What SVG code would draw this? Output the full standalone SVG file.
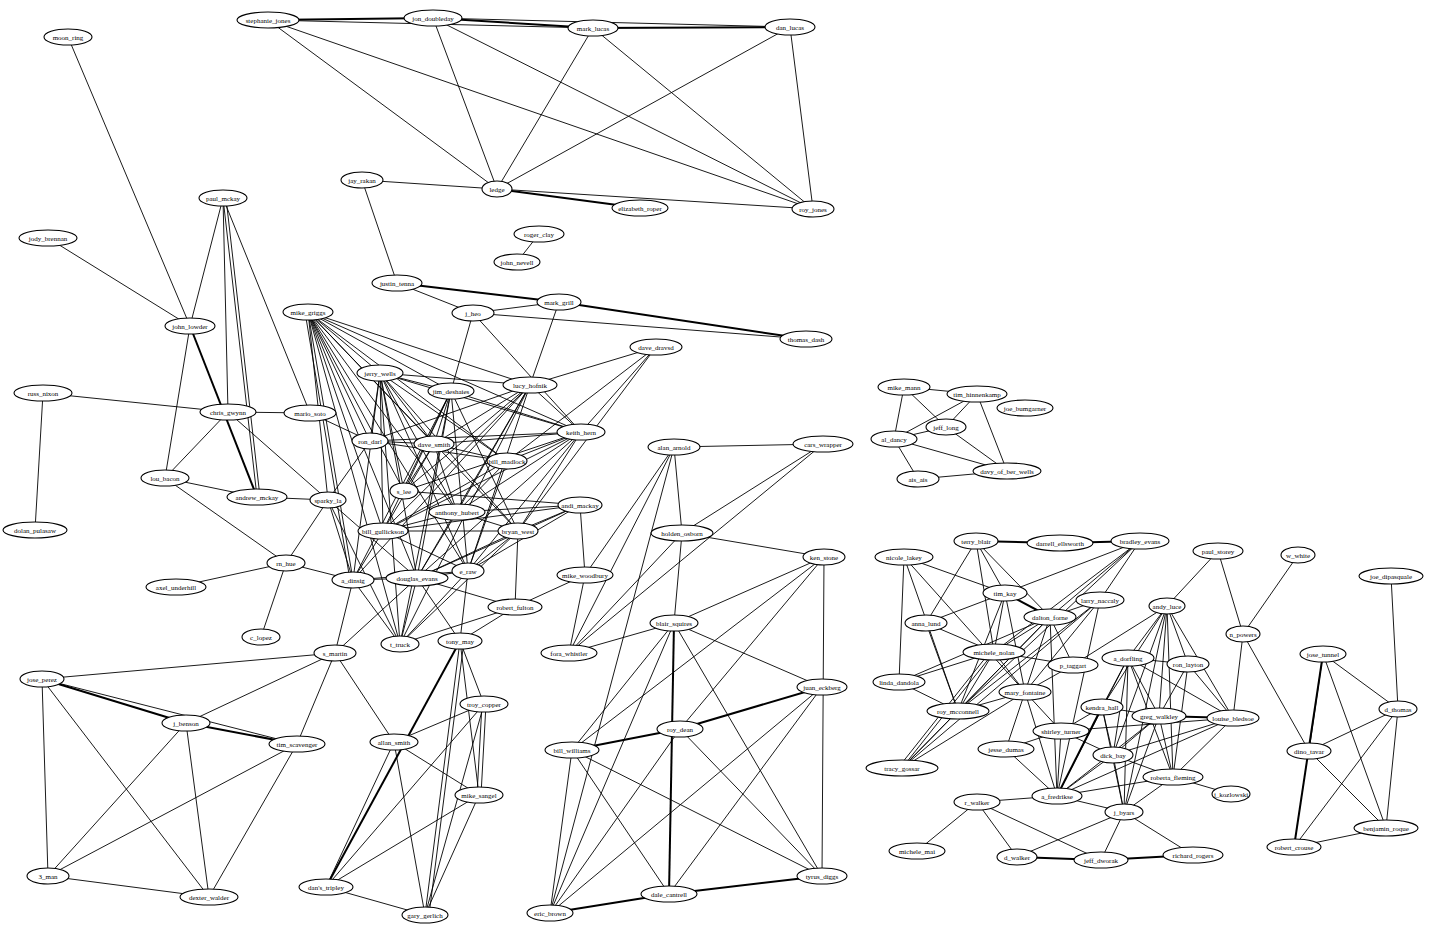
<svg xmlns="http://www.w3.org/2000/svg" width="1437" height="930" viewBox="0 0 1437 930">
<style>
.n ellipse{fill:#fff;stroke:#000;stroke-width:1.1}
.n text{font-family:"Liberation Serif",serif;font-size:7px;text-anchor:middle;fill:#000}
#edges line{stroke:#000;stroke-width:0.9}
#edges line.t{stroke-width:2}
</style>
<rect width="1437" height="930" fill="#fff"/>
<g id="edges">
<!-- top cluster -->
<line class="t" x1="268" y1="20" x2="433" y2="18"/><line x1="268" y1="20" x2="593" y2="28"/><line class="t" x1="433" y1="18" x2="593" y2="28"/><line class="t" x1="593" y1="28" x2="790" y2="27"/><line x1="433" y1="18" x2="790" y2="27"/>
<line x1="268" y1="20" x2="497" y2="189"/><line x1="268" y1="20" x2="813" y2="209"/><line x1="433" y1="18" x2="497" y2="189"/><line x1="433" y1="18" x2="813" y2="209"/>
<line x1="593" y1="28" x2="497" y2="189"/><line x1="593" y1="28" x2="813" y2="209"/><line x1="790" y1="27" x2="497" y2="189"/><line x1="790" y1="27" x2="813" y2="209"/>
<line class="t" x1="497" y1="189" x2="640" y2="208"/><line x1="497" y1="189" x2="813" y2="209"/><line x1="362" y1="180" x2="497" y2="189"/><line x1="362" y1="180" x2="397" y2="283"/>
<line x1="68" y1="37" x2="190" y2="326"/><line x1="48" y1="238" x2="190" y2="326"/><line x1="539" y1="234" x2="517" y2="262"/>
<line class="t" x1="397" y1="283" x2="559" y2="302"/><line class="t" x1="559" y1="302" x2="806" y2="339"/><line x1="473" y1="313" x2="806" y2="339"/><line x1="397" y1="283" x2="473" y2="313"/><line x1="473" y1="313" x2="559" y2="302"/>
<!-- left / dense cluster -->
<line x1="223" y1="198" x2="190" y2="326"/><line x1="223" y1="198" x2="228" y2="412"/><line x1="223" y1="198" x2="257" y2="497"/><line x1="226" y1="198" x2="260" y2="497"/><line x1="223" y1="198" x2="310" y2="413"/>
<line x1="190" y1="326" x2="165" y2="478"/><line class="t" x1="190" y1="326" x2="257" y2="497"/>
<line x1="43" y1="393" x2="228" y2="412"/><line x1="43" y1="393" x2="35" y2="530"/><line x1="228" y1="412" x2="310" y2="413"/><line x1="228" y1="412" x2="165" y2="478"/><line x1="228" y1="412" x2="328" y2="500"/>
<line x1="165" y1="478" x2="257" y2="497"/><line x1="165" y1="478" x2="286" y2="563"/><line x1="257" y1="497" x2="328" y2="500"/><line x1="328" y1="500" x2="286" y2="563"/>
<line x1="286" y1="563" x2="176" y2="587"/><line x1="286" y1="563" x2="261" y2="637"/><line x1="286" y1="563" x2="353" y2="580"/>
<line x1="310" y1="413" x2="370" y2="441"/>
<line x1="308" y1="312" x2="380" y2="373"/><line x1="308" y1="312" x2="451" y2="391"/><line x1="308" y1="312" x2="530" y2="385"/><line x1="308" y1="312" x2="581" y2="432"/><line x1="308" y1="312" x2="370" y2="441"/><line x1="308" y1="312" x2="434" y2="444"/><line x1="308" y1="312" x2="507" y2="461"/><line x1="308" y1="312" x2="404" y2="491"/><line x1="308" y1="312" x2="328" y2="500"/><line x1="308" y1="312" x2="457" y2="512"/><line x1="308" y1="312" x2="383" y2="531"/><line x1="308" y1="312" x2="518" y2="531"/><line x1="308" y1="312" x2="353" y2="580"/><line x1="308" y1="312" x2="417" y2="578"/><line x1="308" y1="312" x2="468" y2="571"/><line x1="308" y1="312" x2="400" y2="644"/><line x1="305" y1="312" x2="350" y2="580"/>
<line x1="473" y1="313" x2="451" y2="391"/><line x1="473" y1="313" x2="581" y2="432"/><line x1="559" y1="302" x2="530" y2="385"/>
<line x1="656" y1="347" x2="530" y2="385"/><line x1="656" y1="347" x2="581" y2="432"/><line x1="656" y1="347" x2="518" y2="531"/><line x1="656" y1="347" x2="507" y2="461"/>
<line x1="380" y1="373" x2="451" y2="391"/><line x1="380" y1="373" x2="530" y2="385"/><line x1="380" y1="373" x2="581" y2="432"/><line x1="380" y1="373" x2="370" y2="441"/><line x1="380" y1="373" x2="434" y2="444"/><line x1="380" y1="373" x2="507" y2="461"/><line x1="380" y1="373" x2="404" y2="491"/><line x1="380" y1="373" x2="457" y2="512"/><line x1="380" y1="373" x2="383" y2="531"/><line x1="380" y1="373" x2="468" y2="571"/><line x1="380" y1="373" x2="417" y2="578"/><line x1="380" y1="373" x2="400" y2="644"/><line x1="380" y1="373" x2="353" y2="580"/><line x1="380" y1="373" x2="518" y2="531"/>
<line x1="451" y1="391" x2="434" y2="444"/><line x1="451" y1="391" x2="404" y2="491"/><line x1="451" y1="391" x2="383" y2="531"/><line x1="451" y1="391" x2="353" y2="580"/><line x1="451" y1="391" x2="468" y2="571"/><line x1="451" y1="391" x2="400" y2="644"/><line x1="451" y1="391" x2="581" y2="432"/><line x1="451" y1="391" x2="518" y2="531"/><line x1="451" y1="391" x2="417" y2="578"/>
<line x1="530" y1="385" x2="370" y2="441"/><line x1="530" y1="385" x2="434" y2="444"/><line x1="530" y1="385" x2="404" y2="491"/><line x1="530" y1="385" x2="457" y2="512"/><line x1="530" y1="385" x2="383" y2="531"/><line x1="530" y1="385" x2="417" y2="578"/><line x1="530" y1="385" x2="353" y2="580"/><line x1="530" y1="385" x2="581" y2="432"/><line x1="530" y1="385" x2="468" y2="571"/><line x1="530" y1="385" x2="400" y2="644"/>
<line x1="581" y1="432" x2="370" y2="441"/><line x1="581" y1="432" x2="434" y2="444"/><line x1="581" y1="432" x2="507" y2="461"/><line x1="581" y1="432" x2="457" y2="512"/><line x1="581" y1="432" x2="383" y2="531"/><line x1="581" y1="432" x2="518" y2="531"/><line x1="581" y1="432" x2="417" y2="578"/><line x1="581" y1="432" x2="404" y2="491"/><line x1="581" y1="432" x2="468" y2="571"/>
<line x1="370" y1="441" x2="434" y2="444"/><line x1="370" y1="441" x2="507" y2="461"/><line x1="370" y1="441" x2="328" y2="500"/><line x1="434" y1="444" x2="507" y2="461"/><line x1="434" y1="444" x2="457" y2="512"/><line x1="434" y1="444" x2="383" y2="531"/><line x1="434" y1="444" x2="404" y2="491"/>
<line x1="507" y1="461" x2="383" y2="531"/><line x1="507" y1="461" x2="457" y2="512"/><line x1="507" y1="461" x2="468" y2="571"/>
<line x1="457" y1="512" x2="580" y2="505"/><line x1="457" y1="512" x2="518" y2="531"/><line x1="457" y1="512" x2="383" y2="531"/><line x1="457" y1="512" x2="417" y2="578"/>
<line x1="383" y1="531" x2="518" y2="531"/><line x1="383" y1="531" x2="468" y2="571"/><line x1="383" y1="531" x2="353" y2="580"/>
<line x1="518" y1="531" x2="468" y2="571"/><line x1="518" y1="531" x2="515" y2="607"/><line x1="518" y1="531" x2="417" y2="578"/><line x1="518" y1="531" x2="400" y2="644"/>
<line x1="580" y1="505" x2="518" y2="531"/><line x1="580" y1="505" x2="468" y2="571"/><line x1="580" y1="505" x2="417" y2="578"/><line x1="580" y1="505" x2="404" y2="491"/><line x1="580" y1="505" x2="585" y2="575"/><line x1="580" y1="505" x2="383" y2="531"/>
<line x1="468" y1="571" x2="417" y2="578"/><line x1="468" y1="571" x2="353" y2="580"/><line x1="468" y1="571" x2="460" y2="641"/><line x1="468" y1="571" x2="400" y2="644"/>
<line x1="353" y1="580" x2="417" y2="578"/><line x1="353" y1="580" x2="400" y2="644"/><line x1="353" y1="580" x2="335" y2="653"/><line x1="328" y1="500" x2="353" y2="580"/><line x1="328" y1="500" x2="400" y2="644"/><line x1="328" y1="500" x2="417" y2="578"/>
<line x1="417" y1="578" x2="400" y2="644"/><line x1="417" y1="578" x2="460" y2="641"/><line x1="417" y1="578" x2="335" y2="653"/>
<line x1="515" y1="607" x2="400" y2="644"/><line x1="515" y1="607" x2="585" y2="575"/><line x1="515" y1="607" x2="417" y2="578"/><line x1="515" y1="607" x2="460" y2="641"/>
<!-- lower left -->
<line x1="335" y1="653" x2="42" y2="679"/><line x1="335" y1="653" x2="186" y2="723"/><line x1="335" y1="653" x2="297" y2="744"/><line x1="335" y1="653" x2="394" y2="742"/>
<line class="t" x1="42" y1="679" x2="186" y2="723"/><line x1="42" y1="679" x2="297" y2="744"/><line class="t" x1="186" y1="723" x2="297" y2="744"/>
<line x1="42" y1="679" x2="48" y2="876"/><line x1="42" y1="679" x2="209" y2="897"/><line x1="186" y1="723" x2="48" y2="876"/><line x1="186" y1="723" x2="209" y2="897"/><line x1="297" y1="744" x2="48" y2="876"/><line x1="297" y1="744" x2="209" y2="897"/><line x1="48" y1="876" x2="209" y2="897"/>
<line x1="460" y1="641" x2="484" y2="704"/><line x1="460" y1="641" x2="479" y2="795"/><line class="t" x1="460" y1="641" x2="326" y2="887"/><line x1="460" y1="641" x2="425" y2="915"/><line x1="464" y1="641" x2="429" y2="915"/>
<line x1="394" y1="742" x2="484" y2="704"/><line x1="394" y1="742" x2="479" y2="795"/><line x1="394" y1="742" x2="425" y2="915"/><line x1="394" y1="742" x2="326" y2="887"/>
<line x1="484" y1="704" x2="326" y2="887"/><line x1="482" y1="704" x2="477" y2="795"/><line x1="486" y1="704" x2="481" y2="795"/><line x1="484" y1="704" x2="425" y2="915"/>
<line x1="479" y1="795" x2="326" y2="887"/><line x1="479" y1="795" x2="425" y2="915"/><line x1="326" y1="887" x2="425" y2="915"/>
<!-- middle right -->
<line x1="674" y1="447" x2="823" y2="444"/><line x1="674" y1="447" x2="682" y2="533"/><line x1="674" y1="447" x2="569" y2="653"/><line x1="674" y1="447" x2="585" y2="575"/><line x1="674" y1="447" x2="550" y2="913"/>
<line x1="823" y1="444" x2="682" y2="533"/><line x1="823" y1="444" x2="569" y2="653"/><line x1="682" y1="533" x2="824" y2="557"/><line x1="682" y1="533" x2="569" y2="653"/><line x1="682" y1="533" x2="674" y2="623"/>
<line x1="585" y1="575" x2="569" y2="653"/>
<line x1="824" y1="557" x2="674" y2="623"/><line x1="824" y1="557" x2="680" y2="729"/><line x1="824" y1="557" x2="572" y2="750"/><line x1="824" y1="557" x2="822" y2="876"/>
<line x1="674" y1="623" x2="569" y2="653"/><line x1="674" y1="623" x2="572" y2="750"/><line x1="674" y1="623" x2="550" y2="913"/><line class="t" x1="674" y1="623" x2="669" y2="894"/><line x1="674" y1="623" x2="822" y2="876"/><line x1="674" y1="623" x2="822" y2="687"/>
<line class="t" x1="822" y1="687" x2="680" y2="729"/><line x1="822" y1="687" x2="550" y2="913"/><line x1="822" y1="687" x2="669" y2="894"/>
<line class="t" x1="680" y1="729" x2="572" y2="750"/><line x1="680" y1="729" x2="550" y2="913"/><line x1="680" y1="729" x2="822" y2="876"/>
<line x1="572" y1="750" x2="550" y2="913"/><line x1="572" y1="750" x2="669" y2="894"/><line x1="572" y1="750" x2="822" y2="876"/>
<line class="t" x1="550" y1="913" x2="669" y2="894"/><line class="t" x1="669" y1="894" x2="822" y2="876"/>
<!-- right top -->
<line x1="904" y1="387" x2="977" y2="394"/><line x1="904" y1="387" x2="894" y2="439"/><line x1="904" y1="387" x2="946" y2="427"/><line x1="977" y1="394" x2="894" y2="439"/><line x1="977" y1="394" x2="946" y2="427"/><line x1="977" y1="394" x2="1007" y2="471"/>
<line x1="946" y1="427" x2="894" y2="439"/><line x1="946" y1="427" x2="1007" y2="471"/><line x1="894" y1="439" x2="1007" y2="471"/><line x1="894" y1="439" x2="918" y2="479"/><line x1="918" y1="479" x2="1007" y2="471"/>
<!-- right bottom -->
<line class="t" x1="976" y1="541" x2="1060" y2="543"/><line class="t" x1="1060" y1="543" x2="1140" y2="541"/>
<line x1="976" y1="541" x2="1005" y2="593"/><line x1="976" y1="541" x2="926" y2="623"/><line x1="976" y1="541" x2="1050" y2="617"/><line x1="976" y1="541" x2="994" y2="652"/>
<line x1="1140" y1="541" x2="1050" y2="617"/><line x1="1140" y1="541" x2="1100" y2="600"/><line x1="1140" y1="541" x2="994" y2="652"/><line x1="1140" y1="541" x2="958" y2="711"/><line x1="1140" y1="541" x2="1005" y2="593"/>
<line x1="904" y1="557" x2="1005" y2="593"/><line x1="904" y1="557" x2="899" y2="682"/><line x1="904" y1="557" x2="958" y2="711"/><line x1="904" y1="557" x2="1025" y2="692"/>
<line class="t" x1="1005" y1="593" x2="1050" y2="617"/><line x1="1005" y1="593" x2="926" y2="623"/><line x1="1005" y1="593" x2="994" y2="652"/><line x1="1005" y1="593" x2="1025" y2="692"/><line x1="1005" y1="593" x2="958" y2="711"/>
<line x1="1100" y1="600" x2="1050" y2="617"/><line x1="1100" y1="600" x2="1025" y2="692"/><line x1="1100" y1="600" x2="1057" y2="796"/><line x1="1100" y1="600" x2="902" y2="768"/><line x1="1100" y1="600" x2="958" y2="711"/>
<line x1="1050" y1="617" x2="994" y2="652"/><line x1="1050" y1="617" x2="1025" y2="692"/><line x1="1050" y1="617" x2="1073" y2="665"/><line x1="1050" y1="617" x2="899" y2="682"/><line x1="1050" y1="617" x2="958" y2="711"/><line x1="1050" y1="617" x2="902" y2="768"/><line x1="1050" y1="617" x2="1057" y2="796"/>
<line x1="1167" y1="606" x2="1218" y2="551"/><line x1="1167" y1="606" x2="1128" y2="658"/><line x1="1167" y1="606" x2="1102" y2="707"/><line x1="1167" y1="606" x2="1159" y2="716"/><line x1="1167" y1="606" x2="1233" y2="718"/><line x1="1167" y1="606" x2="1173" y2="777"/><line x1="1167" y1="606" x2="1124" y2="812"/><line x1="1167" y1="606" x2="1113" y2="755"/><line x1="1167" y1="606" x2="1073" y2="665"/>
<line x1="1218" y1="551" x2="1243" y2="634"/><line x1="1298" y1="555" x2="1243" y2="634"/><line x1="1243" y1="634" x2="1233" y2="718"/><line x1="1243" y1="634" x2="1309" y2="751"/>
<line x1="1391" y1="576" x2="1398" y2="709"/>
<line x1="1323" y1="654" x2="1309" y2="751"/><line class="t" x1="1323" y1="654" x2="1294" y2="847"/><line x1="1323" y1="654" x2="1386" y2="828"/><line x1="1323" y1="654" x2="1398" y2="709"/>
<line x1="1398" y1="709" x2="1309" y2="751"/><line x1="1398" y1="709" x2="1294" y2="847"/><line x1="1398" y1="709" x2="1386" y2="828"/><line x1="1309" y1="751" x2="1386" y2="828"/><line x1="1294" y1="847" x2="1386" y2="828"/>
<line x1="926" y1="623" x2="994" y2="652"/><line x1="926" y1="623" x2="958" y2="711"/>
<line x1="994" y1="652" x2="1025" y2="692"/><line x1="994" y1="652" x2="899" y2="682"/><line x1="994" y1="652" x2="1073" y2="665"/><line x1="994" y1="652" x2="958" y2="711"/><line x1="994" y1="652" x2="902" y2="768"/><line x1="990" y1="652" x2="898" y2="768"/>
<line x1="1073" y1="665" x2="1025" y2="692"/>
<line x1="1128" y1="658" x2="1188" y2="664"/><line x1="1128" y1="658" x2="1102" y2="707"/><line x1="1128" y1="658" x2="1159" y2="716"/><line x1="1128" y1="658" x2="1113" y2="755"/><line x1="1128" y1="658" x2="1057" y2="796"/><line x1="1128" y1="658" x2="1124" y2="812"/><line x1="1128" y1="658" x2="1173" y2="777"/><line x1="1128" y1="658" x2="1233" y2="718"/>
<line x1="1188" y1="664" x2="1159" y2="716"/><line x1="1188" y1="664" x2="1173" y2="777"/><line x1="1188" y1="664" x2="1167" y2="606"/><line x1="1188" y1="664" x2="1233" y2="718"/>
<line x1="899" y1="682" x2="958" y2="711"/><line x1="958" y1="711" x2="1025" y2="692"/><line x1="958" y1="711" x2="902" y2="768"/>
<line x1="1025" y1="692" x2="902" y2="768"/><line x1="1025" y1="692" x2="1006" y2="749"/><line x1="1025" y1="692" x2="1061" y2="731"/><line x1="1025" y1="692" x2="1057" y2="796"/>
<line x1="1102" y1="707" x2="1159" y2="716"/><line x1="1102" y1="707" x2="1061" y2="731"/><line x1="1102" y1="707" x2="1113" y2="755"/><line class="t" x1="1102" y1="707" x2="1057" y2="796"/><line x1="1102" y1="707" x2="1124" y2="812"/>
<line class="t" x1="1159" y1="716" x2="1233" y2="718"/><line x1="1159" y1="716" x2="1113" y2="755"/><line x1="1159" y1="716" x2="1173" y2="777"/><line x1="1159" y1="716" x2="1057" y2="796"/><line x1="1159" y1="716" x2="1124" y2="812"/>
<line x1="1233" y1="718" x2="1173" y2="777"/><line x1="1233" y1="718" x2="1057" y2="796"/><line x1="1233" y1="718" x2="1113" y2="755"/><line x1="1233" y1="718" x2="1061" y2="731"/>
<line x1="1061" y1="731" x2="1006" y2="749"/><line x1="1061" y1="731" x2="1057" y2="796"/><line x1="1061" y1="731" x2="1113" y2="755"/>
<line x1="1006" y1="749" x2="1057" y2="796"/>
<line x1="1113" y1="755" x2="1173" y2="777"/><line x1="1113" y1="755" x2="1124" y2="812"/><line x1="1113" y1="755" x2="1057" y2="796"/>
<line x1="1173" y1="777" x2="1231" y2="794"/><line x1="1173" y1="777" x2="1124" y2="812"/><line x1="1173" y1="777" x2="1057" y2="796"/>
<line x1="1057" y1="796" x2="977" y2="802"/><line x1="1057" y1="796" x2="1124" y2="812"/>
<line x1="977" y1="802" x2="917" y2="851"/><line x1="977" y1="802" x2="1017" y2="857"/><line x1="977" y1="802" x2="1101" y2="860"/>
<line x1="1124" y1="812" x2="1017" y2="857"/><line x1="1124" y1="812" x2="1101" y2="860"/><line x1="1124" y1="812" x2="1193" y2="855"/>
<line class="t" x1="1017" y1="857" x2="1101" y2="860"/><line class="t" x1="1101" y1="860" x2="1193" y2="855"/>
</g>
<g id="n_SJ" class="n"><ellipse cx="268" cy="20" rx="31" ry="8"/><text x="268" y="22.5">stephanie_jones</text></g>
<g id="n_JD" class="n"><ellipse cx="433" cy="18" rx="29" ry="8"/><text x="433" y="20.5">jon_doubleday</text></g>
<g id="n_ML" class="n"><ellipse cx="593" cy="28" rx="25" ry="8"/><text x="593" y="30.5">mark_lucas</text></g>
<g id="n_DL" class="n"><ellipse cx="790" cy="27" rx="25" ry="8"/><text x="790" y="29.5">dan_lucas</text></g>
<g id="n_MR" class="n"><ellipse cx="68" cy="37" rx="24" ry="8"/><text x="68" y="39.5">moon_ring</text></g>
<g id="n_JR" class="n"><ellipse cx="362" cy="180" rx="21" ry="8"/><text x="362" y="182.5">jay_rakan</text></g>
<g id="n_LG" class="n"><ellipse cx="497" cy="189" rx="15" ry="8"/><text x="497" y="191.5">ledge</text></g>
<g id="n_ER" class="n"><ellipse cx="640" cy="208" rx="28" ry="8"/><text x="640" y="210.5">elizabeth_roper</text></g>
<g id="n_RJ" class="n"><ellipse cx="813" cy="209" rx="21" ry="8"/><text x="813" y="211.5">roy_jones</text></g>
<g id="n_PM" class="n"><ellipse cx="223" cy="198" rx="24" ry="8"/><text x="223" y="200.5">paul_mckay</text></g>
<g id="n_JB2" class="n"><ellipse cx="48" cy="238" rx="29" ry="8"/><text x="48" y="240.5">jody_brennan</text></g>
<g id="n_RC2" class="n"><ellipse cx="539" cy="234" rx="25" ry="8"/><text x="539" y="236.5">roger_clay</text></g>
<g id="n_JN" class="n"><ellipse cx="517" cy="262" rx="23" ry="8"/><text x="517" y="264.5">john_nevell</text></g>
<g id="n_JT" class="n"><ellipse cx="397" cy="283" rx="25" ry="8"/><text x="397" y="285.5">justin_tenna</text></g>
<g id="n_MGR" class="n"><ellipse cx="559" cy="302" rx="22" ry="8"/><text x="559" y="304.5">mark_grill</text></g>
<g id="n_JH" class="n"><ellipse cx="473" cy="313" rx="21" ry="8"/><text x="473" y="315.5">j_heo</text></g>
<g id="n_TD" class="n"><ellipse cx="806" cy="339" rx="26" ry="8"/><text x="806" y="341.5">thomas_dash</text></g>
<g id="n_JL" class="n"><ellipse cx="190" cy="326" rx="25" ry="8"/><text x="190" y="328.5">john_lowder</text></g>
<g id="n_MG2" class="n"><ellipse cx="308" cy="312" rx="25" ry="8"/><text x="308" y="314.5">mike_griggs</text></g>
<g id="n_DD" class="n"><ellipse cx="656" cy="347" rx="26" ry="8"/><text x="656" y="349.5">dave_dravsd</text></g>
<g id="n_RN" class="n"><ellipse cx="43" cy="393" rx="29" ry="8"/><text x="43" y="395.5">russ_nixon</text></g>
<g id="n_CG" class="n"><ellipse cx="228" cy="412" rx="28" ry="8"/><text x="228" y="414.5">chris_gwynn</text></g>
<g id="n_MS" class="n"><ellipse cx="310" cy="413" rx="26" ry="8"/><text x="310" y="415.5">mario_soto</text></g>
<g id="n_JW" class="n"><ellipse cx="380" cy="373" rx="23" ry="8"/><text x="380" y="375.5">jerry_wells</text></g>
<g id="n_JDS" class="n"><ellipse cx="451" cy="391" rx="23" ry="8"/><text x="451" y="393.5">jim_deshaies</text></g>
<g id="n_LH" class="n"><ellipse cx="530" cy="385" rx="27" ry="8"/><text x="530" y="387.5">lucy_hofnik</text></g>
<g id="n_KH" class="n"><ellipse cx="581" cy="432" rx="24" ry="8"/><text x="581" y="434.5">keith_hern</text></g>
<g id="n_RD" class="n"><ellipse cx="370" cy="441" rx="18" ry="8"/><text x="370" y="443.5">ron_darl</text></g>
<g id="n_DS" class="n"><ellipse cx="434" cy="444" rx="20" ry="8"/><text x="434" y="446.5">dave_smith</text></g>
<g id="n_BM" class="n"><ellipse cx="507" cy="461" rx="20" ry="8"/><text x="507" y="463.5">bill_madlock</text></g>
<g id="n_RX" class="n"><ellipse cx="404" cy="491" rx="14" ry="8"/><text x="404" y="493.5">s_lee</text></g>
<g id="n_SL" class="n"><ellipse cx="328" cy="500" rx="18" ry="8"/><text x="328" y="502.5">sparky_la</text></g>
<g id="n_AMK" class="n"><ellipse cx="257" cy="497" rx="30" ry="8"/><text x="257" y="499.5">andrew_mckay</text></g>
<g id="n_LB" class="n"><ellipse cx="165" cy="478" rx="24" ry="8"/><text x="165" y="480.5">lou_bacon</text></g>
<g id="n_DP" class="n"><ellipse cx="35" cy="530" rx="32" ry="8"/><text x="35" y="532.5">dolan_pulasaw</text></g>
<g id="n_AH" class="n"><ellipse cx="457" cy="512" rx="28" ry="8"/><text x="457" y="514.5">anthony_hubert</text></g>
<g id="n_BG" class="n"><ellipse cx="383" cy="531" rx="25" ry="8"/><text x="383" y="533.5">bill_gullickson</text></g>
<g id="n_BX" class="n"><ellipse cx="518" cy="531" rx="20" ry="8"/><text x="518" y="533.5">bryan_west</text></g>
<g id="n_AM" class="n"><ellipse cx="580" cy="505" rx="22" ry="8"/><text x="580" y="507.5">andi_mackay</text></g>
<g id="n_RF" class="n"><ellipse cx="515" cy="607" rx="27" ry="8"/><text x="515" y="609.5">robert_fulton</text></g>
<g id="n_MW" class="n"><ellipse cx="585" cy="575" rx="28" ry="8"/><text x="585" y="577.5">mike_woodbury</text></g>
<g id="n_RW" class="n"><ellipse cx="468" cy="571" rx="16" ry="8"/><text x="468" y="573.5">e_raw</text></g>
<g id="n_DE" class="n"><ellipse cx="417" cy="578" rx="31" ry="8"/><text x="417" y="580.5">douglas_evans</text></g>
<g id="n_AD" class="n"><ellipse cx="353" cy="580" rx="21" ry="8"/><text x="353" y="582.5">a_dinsig</text></g>
<g id="n_TT" class="n"><ellipse cx="400" cy="644" rx="19" ry="8"/><text x="400" y="646.5">t_truck</text></g>
<g id="n_TM" class="n"><ellipse cx="460" cy="641" rx="22" ry="8"/><text x="460" y="643.5">tony_may</text></g>
<g id="n_RH" class="n"><ellipse cx="286" cy="563" rx="19" ry="8"/><text x="286" y="565.5">rn_hue</text></g>
<g id="n_AU" class="n"><ellipse cx="176" cy="587" rx="30" ry="8"/><text x="176" y="589.5">axel_underhill</text></g>
<g id="n_CL" class="n"><ellipse cx="261" cy="637" rx="19" ry="8"/><text x="261" y="639.5">c_lopez</text></g>
<g id="n_SM" class="n"><ellipse cx="335" cy="653" rx="21" ry="8"/><text x="335" y="655.5">s_martin</text></g>
<g id="n_JP" class="n"><ellipse cx="42" cy="679" rx="22" ry="8"/><text x="42" y="681.5">jose_perez</text></g>
<g id="n_JBn" class="n"><ellipse cx="186" cy="723" rx="24" ry="8"/><text x="186" y="725.5">j_benson</text></g>
<g id="n_TS" class="n"><ellipse cx="297" cy="744" rx="28" ry="8"/><text x="297" y="746.5">tim_scavenger</text></g>
<g id="n_TC" class="n"><ellipse cx="484" cy="704" rx="24" ry="8"/><text x="484" y="706.5">troy_copper</text></g>
<g id="n_AS" class="n"><ellipse cx="394" cy="742" rx="24" ry="8"/><text x="394" y="744.5">allan_smith</text></g>
<g id="n_MSG" class="n"><ellipse cx="479" cy="795" rx="24" ry="8"/><text x="479" y="797.5">mike_sangel</text></g>
<g id="n_DT" class="n"><ellipse cx="326" cy="887" rx="27" ry="8"/><text x="326" y="889.5">dan's_tripley</text></g>
<g id="n_GG" class="n"><ellipse cx="425" cy="915" rx="23" ry="8"/><text x="425" y="917.5">gary_gerlich</text></g>
<g id="n_TMN" class="n"><ellipse cx="48" cy="876" rx="21" ry="8"/><text x="48" y="878.5">3_man</text></g>
<g id="n_DW" class="n"><ellipse cx="209" cy="897" rx="29" ry="8"/><text x="209" y="899.5">dexter_walder</text></g>
<g id="n_AA" class="n"><ellipse cx="674" cy="447" rx="26" ry="8"/><text x="674" y="449.5">alan_arnold</text></g>
<g id="n_CW" class="n"><ellipse cx="823" cy="444" rx="30" ry="8"/><text x="823" y="446.5">cars_wrapper</text></g>
<g id="n_HO" class="n"><ellipse cx="682" cy="533" rx="31" ry="8"/><text x="682" y="535.5">holden_osborn</text></g>
<g id="n_KS" class="n"><ellipse cx="824" cy="557" rx="21" ry="8"/><text x="824" y="559.5">ken_stone</text></g>
<g id="n_MSQ" class="n"><ellipse cx="674" cy="623" rx="24" ry="8"/><text x="674" y="625.5">blair_squires</text></g>
<g id="n_FW" class="n"><ellipse cx="569" cy="653" rx="28" ry="8"/><text x="569" y="655.5">fora_whistler</text></g>
<g id="n_JE" class="n"><ellipse cx="822" cy="687" rx="25" ry="8"/><text x="822" y="689.5">juan_eckberg</text></g>
<g id="n_RDn" class="n"><ellipse cx="680" cy="729" rx="23" ry="8"/><text x="680" y="731.5">roy_dean</text></g>
<g id="n_BW" class="n"><ellipse cx="572" cy="750" rx="27" ry="8"/><text x="572" y="752.5">bill_williams</text></g>
<g id="n_TDg" class="n"><ellipse cx="822" cy="876" rx="25" ry="8"/><text x="822" y="878.5">tyrus_diggs</text></g>
<g id="n_DC" class="n"><ellipse cx="669" cy="894" rx="28" ry="8"/><text x="669" y="896.5">dale_cantrell</text></g>
<g id="n_EB" class="n"><ellipse cx="550" cy="913" rx="23" ry="8"/><text x="550" y="915.5">eric_brown</text></g>
<g id="n_MM" class="n"><ellipse cx="904" cy="387" rx="26" ry="8"/><text x="904" y="389.5">mike_mann</text></g>
<g id="n_TH" class="n"><ellipse cx="977" cy="394" rx="30" ry="8"/><text x="977" y="396.5">tim_hinnenkamp</text></g>
<g id="n_JBm" class="n"><ellipse cx="1025" cy="408" rx="28" ry="8"/><text x="1025" y="410.5">joe_bumgarner</text></g>
<g id="n_JLg" class="n"><ellipse cx="946" cy="427" rx="20" ry="8"/><text x="946" y="429.5">jeff_long</text></g>
<g id="n_AD2" class="n"><ellipse cx="894" cy="439" rx="23" ry="8"/><text x="894" y="441.5">al_dancy</text></g>
<g id="n_DV" class="n"><ellipse cx="1007" cy="471" rx="34" ry="8"/><text x="1007" y="473.5">davy_of_ber_wells</text></g>
<g id="n_AI" class="n"><ellipse cx="918" cy="479" rx="21" ry="8"/><text x="918" y="481.5">ais_ais</text></g>
<g id="n_TB" class="n"><ellipse cx="976" cy="541" rx="22" ry="8"/><text x="976" y="543.5">terry_blair</text></g>
<g id="n_DR" class="n"><ellipse cx="1060" cy="543" rx="33" ry="8"/><text x="1060" y="545.5">darrell_ellsworth</text></g>
<g id="n_BE" class="n"><ellipse cx="1140" cy="541" rx="29" ry="8"/><text x="1140" y="543.5">bradley_evans</text></g>
<g id="n_NL" class="n"><ellipse cx="904" cy="557" rx="29" ry="8"/><text x="904" y="559.5">nicole_lakey</text></g>
<g id="n_PS" class="n"><ellipse cx="1218" cy="551" rx="25" ry="8"/><text x="1218" y="553.5">paul_storey</text></g>
<g id="n_WW" class="n"><ellipse cx="1298" cy="555" rx="17" ry="8"/><text x="1298" y="557.5">w_white</text></g>
<g id="n_JDP" class="n"><ellipse cx="1391" cy="576" rx="32" ry="8"/><text x="1391" y="578.5">joe_dipasquale</text></g>
<g id="n_TK" class="n"><ellipse cx="1005" cy="593" rx="22" ry="8"/><text x="1005" y="595.5">tim_kay</text></g>
<g id="n_LN" class="n"><ellipse cx="1100" cy="600" rx="24" ry="8"/><text x="1100" y="602.5">larry_naccaly</text></g>
<g id="n_DF" class="n"><ellipse cx="1050" cy="617" rx="26" ry="8"/><text x="1050" y="619.5">dalton_forne</text></g>
<g id="n_AL" class="n"><ellipse cx="1167" cy="606" rx="18" ry="8"/><text x="1167" y="608.5">andy_luce</text></g>
<g id="n_NP" class="n"><ellipse cx="1243" cy="634" rx="17" ry="8"/><text x="1243" y="636.5">n_powers</text></g>
<g id="n_AN" class="n"><ellipse cx="926" cy="623" rx="21" ry="8"/><text x="926" y="625.5">anna_lund</text></g>
<g id="n_MN" class="n"><ellipse cx="994" cy="652" rx="31" ry="8"/><text x="994" y="654.5">michele_nolan</text></g>
<g id="n_JTu" class="n"><ellipse cx="1323" cy="654" rx="23" ry="8"/><text x="1323" y="656.5">jose_tunnel</text></g>
<g id="n_PT" class="n"><ellipse cx="1073" cy="665" rx="25" ry="8"/><text x="1073" y="667.5">p_taggart</text></g>
<g id="n_ADf" class="n"><ellipse cx="1128" cy="658" rx="26" ry="8"/><text x="1128" y="660.5">a_dorfling</text></g>
<g id="n_RL" class="n"><ellipse cx="1188" cy="664" rx="21" ry="8"/><text x="1188" y="666.5">ron_layton</text></g>
<g id="n_LD" class="n"><ellipse cx="899" cy="682" rx="26" ry="8"/><text x="899" y="684.5">linda_dandola</text></g>
<g id="n_MF" class="n"><ellipse cx="1025" cy="692" rx="26" ry="8"/><text x="1025" y="694.5">mary_fontaine</text></g>
<g id="n_RM" class="n"><ellipse cx="958" cy="711" rx="31" ry="8"/><text x="958" y="713.5">roy_mcconnell</text></g>
<g id="n_KH2" class="n"><ellipse cx="1102" cy="707" rx="21" ry="8"/><text x="1102" y="709.5">kendra_hall</text></g>
<g id="n_GW" class="n"><ellipse cx="1159" cy="716" rx="27" ry="8"/><text x="1159" y="718.5">greg_walkley</text></g>
<g id="n_LBl" class="n"><ellipse cx="1233" cy="718" rx="26" ry="8"/><text x="1233" y="720.5">louise_bledsoe</text></g>
<g id="n_DTv" class="n"><ellipse cx="1309" cy="751" rx="22" ry="8"/><text x="1309" y="753.5">dino_tavar</text></g>
<g id="n_ST" class="n"><ellipse cx="1061" cy="731" rx="28" ry="8"/><text x="1061" y="733.5">shirley_turner</text></g>
<g id="n_JD2" class="n"><ellipse cx="1006" cy="749" rx="28" ry="8"/><text x="1006" y="751.5">jesse_dumas</text></g>
<g id="n_DB" class="n"><ellipse cx="1113" cy="755" rx="20" ry="8"/><text x="1113" y="757.5">dick_bay</text></g>
<g id="n_RFl" class="n"><ellipse cx="1173" cy="777" rx="30" ry="8"/><text x="1173" y="779.5">roberta_fleming</text></g>
<g id="n_JK" class="n"><ellipse cx="1231" cy="794" rx="19" ry="8"/><text x="1231" y="796.5">j_kozlowski</text></g>
<g id="n_AF" class="n"><ellipse cx="1057" cy="796" rx="25" ry="8"/><text x="1057" y="798.5">a_fredrikse</text></g>
<g id="n_RWk" class="n"><ellipse cx="977" cy="802" rx="23" ry="8"/><text x="977" y="804.5">r_walker</text></g>
<g id="n_JBy" class="n"><ellipse cx="1124" cy="812" rx="19" ry="8"/><text x="1124" y="814.5">j_byars</text></g>
<g id="n_TG" class="n"><ellipse cx="902" cy="768" rx="36" ry="8"/><text x="902" y="770.5">tracy_gossar</text></g>
<g id="n_MMi" class="n"><ellipse cx="917" cy="851" rx="28" ry="8"/><text x="917" y="853.5">michele_mai</text></g>
<g id="n_DWk" class="n"><ellipse cx="1017" cy="857" rx="20" ry="8"/><text x="1017" y="859.5">d_walker</text></g>
<g id="n_JDw" class="n"><ellipse cx="1101" cy="860" rx="27" ry="8"/><text x="1101" y="862.5">jeff_dworak</text></g>
<g id="n_RR" class="n"><ellipse cx="1193" cy="855" rx="30" ry="8"/><text x="1193" y="857.5">richard_rogers</text></g>
<g id="n_RC" class="n"><ellipse cx="1294" cy="847" rx="27" ry="8"/><text x="1294" y="849.5">robert_crouse</text></g>
<g id="n_BR" class="n"><ellipse cx="1386" cy="828" rx="32" ry="8"/><text x="1386" y="830.5">benjamin_roque</text></g>
<g id="n_DTh" class="n"><ellipse cx="1398" cy="709" rx="19" ry="8"/><text x="1398" y="711.5">d_thomas</text></g>
</svg>
